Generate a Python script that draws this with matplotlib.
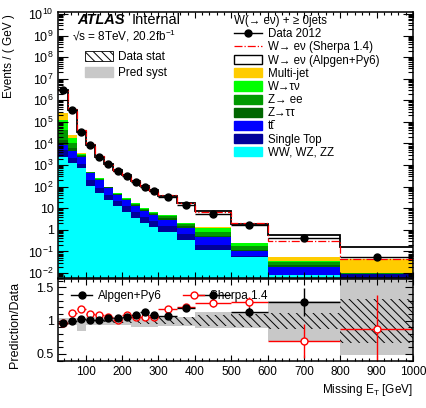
import numpy as np
import matplotlib
matplotlib.use('Agg')
import matplotlib.pyplot as plt
from matplotlib.patches import Patch
from matplotlib.lines import Line2D
from matplotlib.ticker import LogLocator, MultipleLocator, FuncFormatter, NullFormatter

plt.rcParams['font.family'] = ['Liberation Sans', 'DejaVu Sans']
plt.rcParams['mathtext.fontset'] = 'custom'
plt.rcParams['mathtext.rm'] = 'Liberation Sans'
plt.rcParams['mathtext.it'] = 'Liberation Sans:italic'
plt.rcParams['mathtext.bf'] = 'Liberation Sans:bold'
plt.rcParams['hatch.linewidth'] = 0.7

# missing ET binning [GeV]
edges = np.array([25, 50, 75, 100, 125, 150, 175, 200, 225, 250, 275, 300, 350, 400, 500, 600, 800, 1000])

# events / GeV
data = np.array([3.0e6, 3.5e5, 3.5e4, 8.5e3, 2.4e3, 1.1e3, 550, 315, 170, 100, 63, 35, 14, 5.3, 1.7, 0.44, 0.054])

diboson = np.array([2370, 1250, 735, 107, 51, 24, 12.8, 6.75, 3.56, 2.09, 1.36, 0.8, 0.34, 0.117, 0.058, 0.008, 0.002])
single_top = np.array([2630, 880, 387, 97, 36, 17, 9, 6, 3.2, 1.9, 1.23, 0.72, 0.31, 0.083, 0.005, 0.0005, 0.007])
ttbar = np.array([3520, 2330, 1250, 224, 117, 46, 19.5, 11.4, 6, 3.5, 2.3, 1.35, 0.57, 0.25, 0.042, 0.011, 0.0003])
ztautau = np.array([5940, 1700, 270, 25, 11, 5, 2.3, 1.3, 1.4, 0.9, 0.55, 0.69, 0.29, 0.066, 0.012, 0.003, 0.0001])
zee = np.array([27700, 4370, 300, 26, 12, 5, 3.3, 1.4, 1.6, 0.9, 0.6, 0.61, 0.27, 0.27, 0.063, 0.010, 0.0002])
wtaunu = np.array([80300, 7450, 330, 11, 18, 2, 2.5, 2.1, 1.3, 0.7, 0.7, 0.57, 0.22, 0.39, 0.06, 0.005, 0.0002])
multijet = np.array([135000, 6720, 370, 4, 8, 1, 1.6, 1.0, 0.5, 0.3, 0.2, 0.16, 0.09, 0.14, 0.01, 0.020, 0.036])
wenu_alpgen = np.array([2.62e6, 3.25e5, 3.2e4, 8090, 2180, 1044, 521, 304, 166, 102, 61, 32.5, 14.6, 6.0, 1.68, 0.505, 0.124])
wenu_sherpa = np.array([2.62e6, 3.67e5, 3.73e4, 8860, 2340, 1055, 505, 310, 161, 95.7, 59.2, 36.0, 14.7, 5.36, 1.93, 0.248, 0.0012])

# relative uncertainties for the ratio panel
data_stat = np.array([0.005, 0.005, 0.008, 0.01, 0.015, 0.02, 0.03, 0.035, 0.04, 0.045, 0.05, 0.055, 0.06, 0.08, 0.1, 0.12, 0.33])
syst_up = np.array([0.04, 0.04, 0.04, 0.06, 0.06, 0.06, 0.06, 0.06, 0.06, 0.06, 0.06, 0.06, 0.06, 0.13, 0.13, 0.29, 0.7])
syst_down = np.array([0.06, 0.06, 0.16, 0.06, 0.06, 0.06, 0.06, 0.06, 0.09, 0.09, 0.09, 0.08, 0.08, 0.11, 0.11, 0.31, 0.52])
alpgen_err = np.array([0.01, 0.01, 0.01, 0.01, 0.01, 0.01, 0.015, 0.02, 0.02, 0.025, 0.03, 0.03, 0.05, 0.06, 0.075, 0.21, 0.5])
sherpa_err = np.array([0.01, 0.01, 0.01, 0.01, 0.01, 0.01, 0.015, 0.02, 0.02, 0.025, 0.03, 0.035, 0.05, 0.06, 0.08, 0.25, 0.52])

stack = [
    (diboson, '#00ffff', 'WW, WZ, ZZ'),
    (single_top, '#000099', 'Single Top'),
    (ttbar, '#0000ff', 'tt\u0304'),
    (ztautau, '#006600', 'Z\u2192\u03c4\u03c4'),
    (zee, '#009900', 'Z\u2192 ee'),
    (wtaunu, '#00ff00', 'W\u2192\u03c4\u03bd'),
    (multijet, '#ffcc00', 'Multi-jet'),
]

widths = np.diff(edges)
centers = edges[:-1] + widths / 2
bkg = sum(s[0] for s in stack)
alpgen_total = bkg + wenu_alpgen
sherpa_total = bkg + wenu_sherpa

fig = plt.figure(figsize=(4.27, 4.08), dpi=100)
ax = fig.add_axes([0.137, 0.3186, 0.830, 0.652])
rax = fig.add_axes([0.137, 0.1152, 0.830, 0.2010])

# ---- main panel ----
ax.set_yscale('log')
bottom = np.zeros(len(data))
for vals, col, _ in stack:
    ax.bar(edges[:-1], vals, width=widths, bottom=bottom, align='edge', color=col, linewidth=0)
    bottom = bottom + vals
ax.bar(edges[:-1], wenu_alpgen, width=widths, bottom=bottom, align='edge', color='white', linewidth=0)
ax.stairs(alpgen_total, edges, baseline=None, color='black', linewidth=1.3)
ax.stairs(sherpa_total, edges, baseline=None, color='red', linestyle='-.', linewidth=0.9)
ax.errorbar(centers, data, xerr=widths / 2, fmt='o', color='black', ms=5, elinewidth=1, capsize=0)

ax.set_xlim(25, 1000)
ax.set_ylim(5.9e-3, 1.23e10)


def log_label(v, pos):
    n = int(round(np.log10(v)))
    if n == 0:
        return '1'
    if n == 1:
        return '10'
    return '$10^{%d}$' % n


ax.yaxis.set_major_locator(LogLocator(base=10, numticks=30))
ax.yaxis.set_minor_locator(LogLocator(base=10, subs=np.arange(2, 10), numticks=300))
ax.yaxis.set_major_formatter(FuncFormatter(log_label))
ax.yaxis.set_minor_formatter(NullFormatter())
ax.set_ylabel('Events / ( GeV )', fontsize=8.5)
ax.yaxis.set_label_coords(-0.122, 0.835)

for a in (ax, rax):
    a.xaxis.set_major_locator(MultipleLocator(100))
    a.xaxis.set_minor_locator(MultipleLocator(20))
    a.tick_params(which='both', direction='in', top=True, right=True, width=0.8)
    a.tick_params(axis='x', which='major', length=4)
    a.tick_params(axis='x', which='minor', length=2)
    for sp in a.spines.values():
        sp.set_linewidth(1.1)
ax.tick_params(axis='y', which='major', length=7.5, labelsize=9)
ax.tick_params(axis='y', which='minor', length=3.8)
ax.tick_params(axis='x', labelbottom=False)

ax.text(0.052, 0.955, 'ATLAS', transform=ax.transAxes, fontsize=10.5, fontweight='bold',
        fontstyle='italic', va='baseline')
ax.text(0.207, 0.955, 'Internal', transform=ax.transAxes, fontsize=10.5, va='baseline')
ax.text(0.038, 0.891, '\u221as = 8TeV, 20.2fb$^{-1}$', transform=ax.transAxes, fontsize=8.5, va='baseline')

band_handles = [Patch(facecolor='white', edgecolor='black', hatch='\\\\\\\\', linewidth=0.6),
                Patch(facecolor='#c8c8c8', edgecolor='#c8c8c8')]
leg1 = ax.legend(band_handles, ['Data stat', 'Pred syst'], loc='upper left',
                 bbox_to_anchor=(0.075, 0.853), frameon=False, fontsize=8.5, handlelength=2.4,
                 handleheight=0.95, handletextpad=0.4, labelspacing=0.3, borderpad=0, borderaxespad=0)
ax.add_artist(leg1)

handles = [Line2D([], [], color='black', marker='o', ms=5, lw=1),
           Line2D([], [], color='red', ls='-.', lw=0.9),
           Patch(facecolor='white', edgecolor='black', linewidth=1)]
labels = ['Data 2012', 'W\u2192 e\u03bd (Sherpa 1.4)', 'W\u2192 e\u03bd (Alpgen+Py6)']
for vals, col, lab in reversed(stack):
    handles.append(Patch(facecolor=col, edgecolor=col))
    labels.append(lab)
leg2 = ax.legend(handles, labels, loc='upper left', bbox_to_anchor=(0.494, 0.988), frameon=False,
                 fontsize=8.3, title='W(\u2192 e\u03bd) + \u2265 0jets', title_fontsize=8.3,
                 alignment='left', handlelength=2.45, handleheight=0.85, handletextpad=0.5,
                 labelspacing=0.1, borderpad=0, borderaxespad=0)

# ---- ratio panel ----
alpgen_ratio = alpgen_total / data
sherpa_ratio = sherpa_total / data
rax.bar(edges[:-1], syst_up + syst_down, bottom=1 - syst_down, width=widths, align='edge',
        color='#c8c8c8', linewidth=0)
rax.bar(edges[:-1], 2 * data_stat, bottom=1 - data_stat, width=widths, align='edge',
        fill=False, hatch='\\\\\\\\', edgecolor='black', linewidth=0)
rax.errorbar(centers, sherpa_ratio, xerr=widths / 2, yerr=sherpa_err, fmt='o', color='red',
             mfc='white', mec='red', mew=1, ms=5, elinewidth=1, capsize=0)
rax.errorbar(centers, alpgen_ratio, xerr=widths / 2, yerr=alpgen_err, fmt='o', color='black',
             ms=5, elinewidth=1, capsize=0)

rax.set_xlim(25, 1000)
rax.set_ylim(0.395, 1.625)
rax.yaxis.set_major_locator(MultipleLocator(0.5))
rax.yaxis.set_minor_locator(MultipleLocator(0.1))
rax.yaxis.set_major_formatter(FuncFormatter(lambda v, p: '%g' % v))
rax.tick_params(axis='y', which='major', length=6, labelsize=9)
rax.tick_params(axis='y', which='minor', length=3.5)
rax.tick_params(axis='x', labelsize=8.5)
rax.set_ylabel('Prediction/Data', fontsize=9)
rax.yaxis.set_label_coords(-0.106, 0.44)
rax.set_xlabel('Missing E$_{\\mathrm{T}}$ [GeV]', fontsize=8.5, loc='right')
rax.xaxis.set_label_coords(1.0, -0.25)

rhandles = [Line2D([], [], color='black', marker='o', ms=5, lw=1),
            Line2D([], [], color='red', marker='o', mfc='white', mec='red', ms=5, lw=1)]
rax.legend(rhandles, ['Alpgen+Py6', 'Sherpa 1.4'], loc='upper left', bbox_to_anchor=(0.035, 0.87),
           ncol=2, frameon=False, fontsize=8.5, handlelength=1.8, handletextpad=0.5,
           columnspacing=1.8, borderpad=0, borderaxespad=0)

fig.savefig('out.png', dpi=100)
